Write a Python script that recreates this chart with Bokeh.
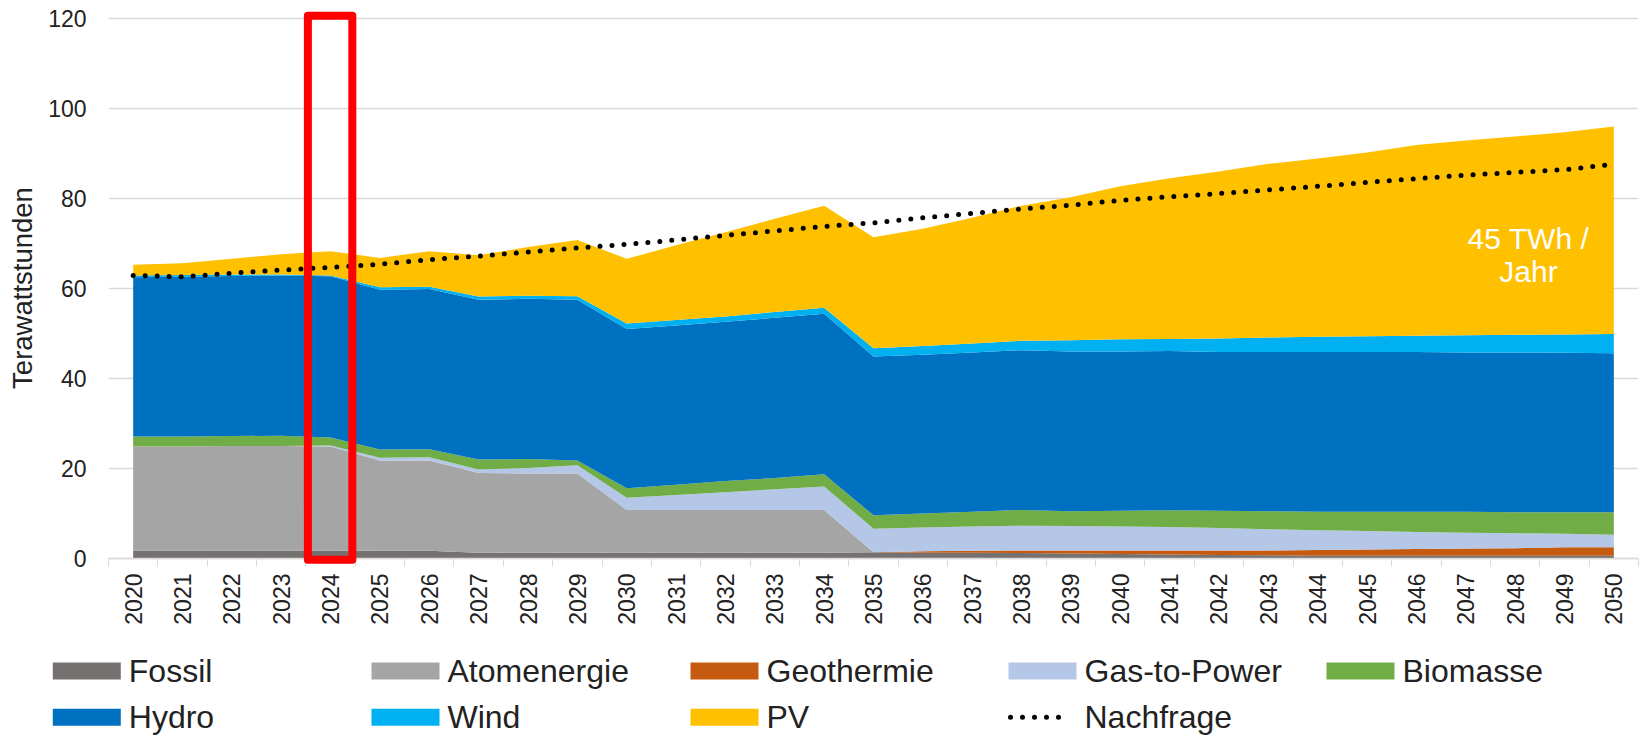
import numpy as np
from bokeh.plotting import figure
from bokeh.models import Range1d, FixedTicker, Span, ColumnDataSource, Label, BoxAnnotation
from bokeh.embed import file_html
from bokeh.resources import INLINE
from bokeh.core.properties import value

years = list(range(2020, 2051))

fossil = [1.8, 1.8, 1.8, 1.8, 1.8, 1.7, 1.7, 1.3, 1.3, 1.3, 1.3, 1.3, 1.3, 1.3, 1.3, 1.4,
          1.3, 1.3, 1.2, 1.1, 1.0, 0.9, 0.8, 0.7, 0.6, 0.6, 0.6, 0.6, 0.6, 0.6, 0.6]
atom = [23.1, 23.1, 23.2, 23.2, 23.1, 20.1, 20.1, 17.7, 17.6, 17.6, 9.5, 9.5, 9.5, 9.5, 9.5, 0.0,
        0.0, 0.0, 0.0, 0.0, 0.0, 0.0, 0.0, 0.0, 0.0, 0.0, 0.0, 0.0, 0.0, 0.0, 0.0]
geo = [0.0, 0.0, 0.0, 0.0, 0.0, 0.0, 0.0, 0.0, 0.0, 0.0, 0.0, 0.0, 0.0, 0.0, 0.0, 0.0,
       0.3, 0.4, 0.6, 0.7, 0.8, 0.9, 1.0, 1.1, 1.3, 1.4, 1.5, 1.6, 1.7, 1.9, 1.9]
gas = [0.0, 0.0, 0.0, 0.0, 0.2, 0.6, 0.7, 0.8, 1.2, 1.8, 2.7, 3.3, 3.9, 4.6, 5.2, 5.2,
       5.3, 5.4, 5.5, 5.4, 5.3, 5.2, 5.0, 4.7, 4.4, 4.1, 3.8, 3.5, 3.3, 3.0, 2.8]
bio = [2.2, 2.2, 2.2, 2.3, 1.8, 1.8, 1.8, 2.2, 2.0, 1.1, 2.1, 2.3, 2.5, 2.5, 2.7, 3.0,
       3.1, 3.3, 3.5, 3.3, 3.5, 3.7, 3.8, 4.0, 4.1, 4.3, 4.5, 4.7, 4.7, 4.8, 5.0]
hydro = [35.4, 35.5, 35.6, 35.6, 35.8, 35.5, 35.6, 35.5, 35.6, 35.7, 35.4, 35.4, 35.4, 35.6, 35.7, 35.3,
         35.3, 35.4, 35.5, 35.5, 35.4, 35.4, 35.3, 35.4, 35.5, 35.5, 35.5, 35.4, 35.5, 35.4, 35.3]
wind = [0.4, 0.4, 0.3, 0.2, 0.2, 0.6, 0.5, 0.7, 0.7, 0.8, 1.2, 1.2, 1.2, 1.3, 1.3, 1.8,
        1.9, 2.0, 2.1, 2.5, 2.7, 2.7, 3.0, 3.2, 3.4, 3.5, 3.6, 3.8, 3.9, 4.1, 4.3]
pv = [2.4, 2.6, 3.5, 4.5, 5.4, 6.5, 7.9, 9.2, 10.8, 12.5, 14.4, 16.6, 18.7, 20.7, 22.7, 24.7,
      26.1, 27.9, 30.0, 31.8, 34.0, 35.7, 37.1, 38.6, 39.6, 40.8, 42.4, 43.3, 44.1, 44.9, 46.1]
nachfrage = [62.9, 62.6, 63.4, 64.1, 64.7, 65.4, 66.4, 67.2, 68.1, 69.0, 69.8, 70.8, 71.8, 72.8, 73.8, 74.6,
             75.7, 76.7, 77.7, 78.5, 79.6, 80.4, 81.1, 81.9, 82.7, 83.6, 84.4, 85.2, 85.8, 86.4, 87.6]

series_names = ["Fossil", "Atomenergie", "Geothermie", "Gas-to-Power", "Biomasse", "Hydro", "Wind", "PV"]
series_values = [fossil, atom, geo, gas, bio, hydro, wind, pv]
series_colors = ["#767171", "#a5a5a5", "#c55a11", "#b4c7e7", "#70ad47", "#0070c0", "#00b0f0", "#ffc000"]
demand_name = "Nachfrage"

y_ticks = [0, 20, 40, 60, 80, 100, 120]
highlight_year = 2024
annotation_lines = ["45 TWh /", "Jahr"]
annotation_year = 2048.27
annotation_y = [71.1, 63.8]

FONT = "Liberation Sans"
TXT = "#222222"
GRID = "#d9d9d9"

data = {"year": years}
for n, v in zip(series_names, series_values):
    data[n] = v
src = ColumnDataSource(data)

p = figure(frame_width=1530, frame_height=557,
           x_range=Range1d(years[0] - 0.5, years[-1] + 0.5),
           y_range=Range1d(-1.78, 122),
           output_backend="svg", toolbar_location=None,
           min_border_left=108, min_border_right=6, min_border_top=9, min_border_bottom=80)
p.outline_line_color = None
p.background_fill_color = "white"
p.border_fill_color = "white"

p.varea_stack(stackers=series_names, x="year", color=series_colors, source=src)
p.line(years, nachfrage, line_color="black", line_width=5, line_dash="0 12", line_cap="round")

p.add_layout(Span(location=0, dimension="width", line_color=GRID, line_width=1.5))

# x axis
p.xaxis.ticker = FixedTicker(ticks=years, minor_ticks=[y - 0.5 for y in years] + [years[-1] + 0.5])
p.xaxis.major_label_orientation = np.pi / 2
p.xaxis.major_tick_line_color = None
p.xaxis.major_tick_in = 0
p.xaxis.major_tick_out = 0
p.xaxis.minor_tick_line_color = GRID
p.xaxis.minor_tick_in = 8
p.xaxis.minor_tick_out = 0
p.xaxis.axis_line_color = None
p.xaxis.major_label_standoff = 7
p.xaxis.major_label_text_font_size = "23px"
p.xaxis.major_label_text_font = FONT
p.xaxis.major_label_text_color = TXT
p.xgrid.visible = False

# y axis
p.yaxis.ticker = FixedTicker(ticks=y_ticks)
p.yaxis.axis_line_color = None
p.yaxis.major_tick_line_color = None
p.yaxis.major_tick_in = 0
p.yaxis.major_tick_out = 0
p.yaxis.minor_tick_line_color = None
p.yaxis.minor_tick_out = 0
p.yaxis.major_label_standoff = 22
p.yaxis.major_label_text_font_size = "23px"
p.yaxis.major_label_text_font = FONT
p.yaxis.major_label_text_color = TXT
p.yaxis.axis_label = "Terawattstunden"
p.yaxis.axis_label_text_font_size = "27.5px"
p.yaxis.axis_label_text_font = FONT
p.yaxis.axis_label_text_font_style = "normal"
p.yaxis.axis_label_text_color = TXT
p.yaxis.axis_label_standoff = 7
p.ygrid.grid_line_color = GRID
p.ygrid.grid_line_width = 1.3

for line, yy in zip(annotation_lines, annotation_y):
    p.add_layout(Label(x=annotation_year, y=yy, text=line, text_align="center",
                       text_baseline="alphabetic", text_color="white",
                       text_font_size="30px", text_font=FONT))

p.add_layout(BoxAnnotation(left=highlight_year - 0.46, right=highlight_year + 0.44,
                           bottom=-0.3, top=120.6, fill_alpha=0, fill_color=None,
                           line_color="#ff0000", line_alpha=1.0, line_width=8, line_join="round"))

# legend as its own small plot below (separate root, pixel coordinates, y downwards)
LW, LH = 1640, 90
leg = figure(width=LW, height=LH, x_range=Range1d(0, LW), y_range=Range1d(LH, 0),
             output_backend="svg", toolbar_location=None, min_border=0,
             x_axis_type=None, y_axis_type=None)
leg.outline_line_color = None
leg.xgrid.visible = False
leg.ygrid.visible = False
leg.background_fill_color = "white"
leg.border_fill_color = "white"

col_x = [52.3, 371, 690, 1008, 1326]
row_y = [24.6, 70.8]
legend_names = series_names + [demand_name]
for i, name in enumerate(legend_names):
    cx = col_x[i % 5]
    ry = row_y[i // 5]
    if i < len(series_names):
        leg.rect(x=[cx + 34], y=[ry], width=68, height=17, fill_color=series_colors[i], line_color=None)
    else:
        leg.line([cx + 2, cx + 62], [ry, ry], line_color="black", line_width=5,
                 line_dash="0 12", line_cap="round")
    leg.text(x=[cx + 76], y=[ry], text=[name], text_baseline="middle", text_align="left",
             text_font=value(FONT), text_font_size="32px", text_color=TXT)

open("out.html", "w").write(file_html([p, leg], INLINE))
